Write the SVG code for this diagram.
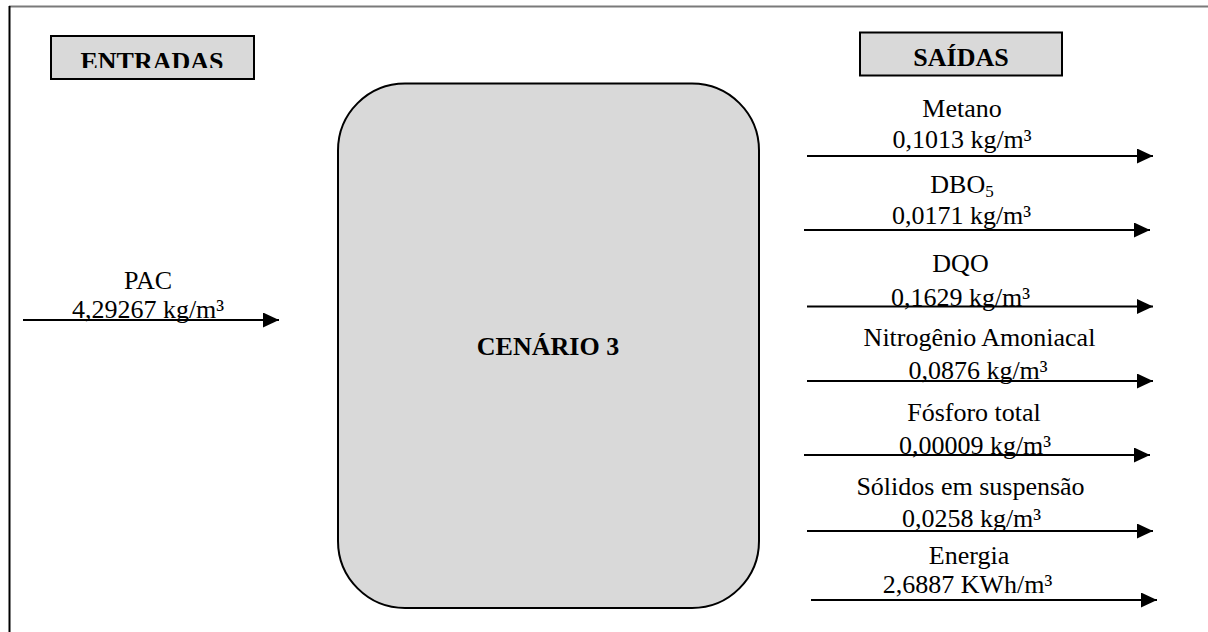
<svg xmlns="http://www.w3.org/2000/svg" width="1208" height="632" viewBox="0 0 1208 632">
<style>
  text { font-family: "Liberation Serif", "Times New Roman", serif; font-size: 26px; fill: #000; }
  .c { text-anchor: middle; }
  .b { font-weight: bold; }
  .title { fill: #d9d9d9; stroke: #000; stroke-width: 2; }
  .arrow { stroke: #000; stroke-width: 2; fill: none; marker-end: url(#ah); }
</style>
<defs>
  <marker id="ah" markerUnits="userSpaceOnUse" markerWidth="16" markerHeight="15" refX="16" refY="7.5" orient="auto" viewBox="0 0 16 15">
    <path d="M0,0 L16,7.5 L0,15 Z" fill="#000"/>
  </marker>
  <clipPath id="clipE"><rect x="50" y="35" width="204" height="33"/></clipPath>
  <clipPath id="clipS"><rect x="859" y="32" width="203" height="35"/></clipPath>
</defs>
<rect x="0" y="0" width="1208" height="632" fill="#fff"/>
<line x1="9" y1="6.5" x2="1208" y2="6.5" stroke="#7a7a7a" stroke-width="2"/>
<line x1="9.5" y1="6" x2="9.5" y2="632" stroke="#000" stroke-width="2"/>

<g id="entradas">
  <rect class="title" x="51" y="36" width="203" height="43"/>
  <text class="c b" x="152" y="70" clip-path="url(#clipE)">ENTRADAS</text>
</g>
<g id="saidas">
  <rect class="title" x="860" y="32.5" width="202" height="43"/>
  <text class="c b" x="961" y="66" clip-path="url(#clipS)">SAÍDAS</text>
</g>
<g id="cenario">
  <rect x="338" y="83.5" width="421" height="524.5" rx="67" ry="67" fill="#d9d9d9" stroke="#000" stroke-width="2"/>
  <text class="c b" x="548" y="355">CENÁRIO 3</text>
</g>

<g id="connectors">
  <line class="arrow" x1="23" y1="320" x2="279" y2="320"/>
  <line class="arrow" x1="807" y1="156" x2="1153" y2="156"/>
  <line class="arrow" x1="804" y1="230" x2="1150" y2="230"/>
  <line class="arrow" x1="807" y1="306.5" x2="1153" y2="306.5"/>
  <line class="arrow" x1="807" y1="381" x2="1153" y2="381"/>
  <line class="arrow" x1="804" y1="455" x2="1150" y2="455"/>
  <line class="arrow" x1="807" y1="531" x2="1153" y2="531"/>
  <line class="arrow" x1="811" y1="600" x2="1157" y2="600"/>
</g>

<g id="labels">
  <text class="c" x="148" y="289">PAC</text>
  <text class="c" x="148" y="318">4,29267 kg/m³</text>

  <text class="c" x="962" y="117">Metano</text>
  <text class="c" x="962" y="148">0,1013 kg/m³</text>

  <text class="c" x="962" y="193">DBO<tspan font-size="17" dy="4">5</tspan></text>
  <text class="c" x="961.5" y="224">0,0171 kg/m³</text>

  <text class="c" x="960.5" y="272">DQO</text>
  <text class="c" x="960.5" y="306">0,1629 kg/m³</text>

  <text class="c" x="979.5" y="346">Nitrogênio Amoniacal</text>
  <text class="c" x="978" y="379">0,0876 kg/m³</text>

  <text class="c" x="974" y="421">Fósforo total</text>
  <text class="c" x="975" y="454">0,00009 kg/m³</text>

  <text class="c" x="970.5" y="495">Sólidos em suspensão</text>
  <text class="c" x="971.5" y="527">0,0258 kg/m³</text>

  <text class="c" x="969" y="564">Energia</text>
  <text class="c" x="967.5" y="593">2,6887 KWh/m³</text>
</g>
</svg>
